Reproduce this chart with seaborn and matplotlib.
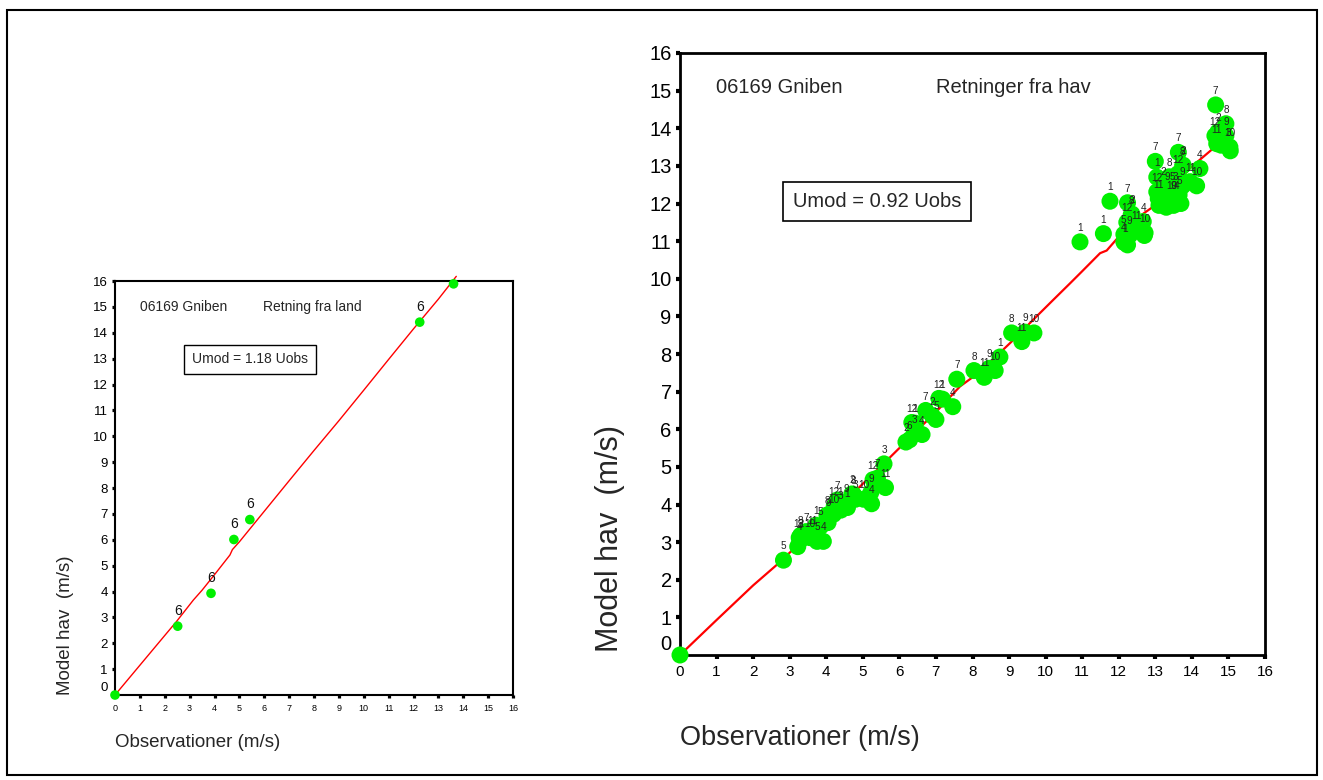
import matplotlib
matplotlib.use("Agg")
import matplotlib.pyplot as plt
import matplotlib.transforms as mtransforms
from matplotlib.patches import Rectangle
import seaborn as sns
import pandas as pd

# ---------------- data ----------------
# Left panel: "Retning fra land"
left_obs = [0.0, 2.52, 3.86, 4.78, 5.42, 12.25, 13.61]
left_mod = [0.0, 2.66, 3.93, 6.01, 6.78, 14.41, 15.89]
left_month = ['', '6', '6', '6', '6', '6', '']
left_fit_x = [0.0, 1.0, 2.0, 2.48, 3.15, 3.5, 4.0, 4.62, 4.72, 5.0, 6.0, 7.0, 8.0, 9.0, 10.0, 11.0, 12.0, 13.0, 13.72]
left_fit_y = [0.0, 1.15, 2.3, 2.85, 3.67, 4.05, 4.65, 5.41, 5.62, 5.92, 7.1, 8.28, 9.45, 10.6, 11.78, 12.97, 14.15, 15.3, 16.18]

# Right panel: "Retninger fra hav"
right_obs = [0.0, 2.83, 3.22, 3.26, 3.30, 3.30, 3.28, 3.45, 3.62, 3.55, 3.75, 3.92, 3.72, 3.85,
             4.05, 4.02, 4.05, 4.20, 4.22, 4.30, 4.38, 4.40, 4.55, 4.58, 4.70, 4.75, 4.80, 5.02,
             5.22, 5.24, 5.62, 5.28, 5.40, 5.58, 6.18, 6.28, 6.40, 6.34, 6.44, 6.62, 6.72, 6.90,
             7.00, 7.08, 7.18, 7.46, 7.57, 8.04, 8.32, 8.46, 8.62, 8.75, 9.07, 9.35, 9.44, 9.68,
             10.94, 11.58, 11.76, 12.24, 12.34, 12.36, 12.22, 12.14, 12.30, 12.14, 12.16, 12.24,
             12.67, 12.49, 12.72, 12.70, 13.00, 13.04, 13.38, 13.62, 13.75, 13.76, 13.63, 13.22,
             13.04, 13.32, 13.47, 13.56, 13.65, 13.75, 13.95, 14.13, 14.22, 13.08, 13.45, 13.50,
             13.58, 13.10, 13.30, 13.50, 13.70, 14.65, 14.93, 14.63, 14.71, 14.93, 14.68, 15.00,
             15.04, 15.05, 14.80]
right_mod = [0.0, 2.52, 2.88, 3.12, 3.18, 3.10, 3.04, 3.28, 3.20, 3.12, 3.02, 3.02, 3.45, 3.42,
             3.52, 3.72, 3.66, 3.74, 3.96, 4.12, 3.95, 3.85, 4.05, 3.92, 4.28, 4.26, 4.14, 4.14,
             4.32, 4.02, 4.45, 4.66, 4.70, 5.08, 5.66, 5.72, 5.88, 6.18, 6.16, 5.86, 6.50, 6.36,
             6.26, 6.82, 6.80, 6.60, 7.33, 7.56, 7.38, 7.62, 7.56, 7.92, 8.56, 8.33, 8.58, 8.56,
             10.98, 11.20, 12.06, 12.02, 11.70, 11.72, 11.50, 11.18, 11.16, 10.98, 10.96, 10.90,
             11.52, 11.30, 11.22, 11.15, 13.12, 12.70, 12.71, 12.79, 13.00, 13.02, 13.36, 12.47,
             12.31, 12.34, 12.34, 12.34, 12.23, 12.47, 12.58, 12.47, 12.93, 12.13, 12.10, 12.10,
             12.10, 11.95, 11.90, 11.95, 12.00, 14.62, 14.12, 13.80, 13.90, 13.80, 13.59, 13.50,
             13.50, 13.40, 13.55]
right_month = ['', '5', '', '12', '8', '3', '4', '7', '11', '10', '5', '4', '1', '5',
               '', '8', '9', '10', '12', '7', '1', '3', '9', '1', '2', '8', '3', '10',
               '9', '4', '11', '12', '7', '3', '2', '6', '3', '12', '1', '4', '7', '2',
               '5', '12', '1', '4', '7', '8', '11', '9', '10', '1', '8', '11', '9', '10',
               '1', '1', '1', '7', '8', '2', '12', '5', '9', '4', '1', '',
               '4', '11', '10', '', '7', '1', '8', '12', '8', '2', '7', '2',
               '12', '9', '5', '3', '5', '9', '11', '10', '4', '11', '10', '9',
               '4', '', '', '', '', '7', '8', '12', '2', '9', '11', '3',
               '10', '', '']
right_fit_x = [0.0, 1.0, 2.0, 2.64, 3.0, 3.5, 4.0, 4.5, 5.0, 5.5, 6.0, 6.5, 7.1, 7.66, 8.0, 8.5,
               9.07, 9.66, 10.21, 10.67, 11.0, 11.49, 11.67, 11.94, 12.3, 12.67, 12.95, 13.5,
               13.95, 14.59, 14.85]
right_fit_y = [0.0, 0.93, 1.85, 2.39, 2.72, 3.17, 3.62, 4.08, 4.55, 5.02, 5.5, 5.98, 6.56, 7.14,
               7.38, 7.8, 8.33, 8.91, 9.44, 9.88, 10.2, 10.68, 10.75, 11.05, 11.4, 11.73, 11.92,
               12.45, 12.94, 13.47, 13.75]

ticks = list(range(0, 17))
x_label = "Observationer (m/s)"
y_label = "Model hav  (m/s)"

# ---------------- style ----------------
sns.set_theme(style="white")
plt.rcParams['font.family'] = ['Liberation Sans', 'DejaVu Sans']

fig = plt.figure(figsize=(13.23, 7.8), dpi=100)
fig.patch.set_facecolor('white')
fig.patches.append(Rectangle((7 / 1323, 5 / 780), 1310 / 1323, 765 / 780,
                             transform=fig.transFigure, fill=False,
                             edgecolor='black', linewidth=1.5, zorder=0))

GREEN = '#00f000'
RED = '#ff0000'


def setup_axes(ax, spine_lw, tick_sq, xt_fs, yt_fs, zero_shift):
    ax.set_xlim(0, 16)
    ax.set_ylim(0, 16)
    ax.set_xticks(ticks)
    ax.set_yticks(ticks)
    ax.set_xticklabels([str(t) for t in ticks], fontsize=xt_fs)
    ax.set_yticklabels([str(t) for t in ticks], fontsize=yt_fs)
    for s in ax.spines.values():
        s.set_visible(True)
        s.set_color('black')
        s.set_linewidth(spine_lw)
    ax.tick_params(axis='both', direction='out', length=tick_sq, width=tick_sq,
                   color='black', labelcolor='black', bottom=True, left=True,
                   top=False, right=False)
    ax.tick_params(axis='x', pad=4)
    ax.tick_params(axis='y', pad=3)
    # the "0" label on the y axis sits above the corner
    lab0 = ax.get_yticklabels()[0]
    lab0.set_transform(lab0.get_transform() +
                       mtransforms.ScaledTranslation(0, zero_shift / 72, fig.dpi_scale_trans))
    ax.yaxis.get_major_ticks()[0].tick1line.set_visible(False)
    ax.xaxis.get_major_ticks()[0].tick1line.set_visible(False)
    ax.grid(False)


# ---------------- left panel ----------------
axL = fig.add_axes([115 / 1323, 1 - 695 / 780, 398 / 1323, 414 / 780])
dfL = pd.DataFrame({'obs': left_obs, 'mod': left_mod, 'month': left_month})
dfLfit = pd.DataFrame({'x': left_fit_x, 'y': left_fit_y})
sns.lineplot(data=dfLfit, x='x', y='y', ax=axL, color=RED, linewidth=1.0,
             estimator=None, sort=False, clip_on=False, zorder=2)
sns.scatterplot(data=dfL, x='obs', y='mod', ax=axL, color=GREEN, s=48,
                edgecolor='none', linewidth=0, clip_on=False, zorder=3)
for xo, ym, lab in zip(dfL['obs'], dfL['mod'], dfL['month']):
    if lab:
        axL.annotate(lab, (xo, ym), xytext=(0, 11), textcoords='offset points',
                     ha='center', va='center', fontsize=10, color='#111111', zorder=4)
setup_axes(axL, 1.5, 2.3, 6.5, 9.5, 6)
axL.set_xlabel(x_label, fontsize=13.5, ha='left')
axL.xaxis.set_label_coords(0.0, -0.115)
axL.xaxis.label.set_va('center')
axL.set_ylabel(y_label, fontsize=13.5)
axL.yaxis.set_label_coords(-0.125, 0.169)
axL.yaxis.label.set_va('center')
axL.text(1.0, 15.0, "06169 Gniben", fontsize=10, ha='left', va='center')
axL.text(5.95, 15.0, "Retning fra land", fontsize=10, ha='left', va='center')
axL.text(5.43, 12.98, "Umod = 1.18 Uobs", fontsize=10, ha='center', va='center',
         bbox=dict(boxstyle='square,pad=0.55', facecolor='white', edgecolor='black', linewidth=1.0))

# ---------------- right panel ----------------
axR = fig.add_axes([680 / 1323, 1 - 655 / 780, 585 / 1323, 602 / 780])
dfR = pd.DataFrame({'obs': right_obs, 'mod': right_mod, 'month': right_month})
dfRfit = pd.DataFrame({'x': right_fit_x, 'y': right_fit_y})
sns.lineplot(data=dfRfit, x='x', y='y', ax=axR, color=RED, linewidth=1.6,
             estimator=None, sort=False, clip_on=False, zorder=2)
sns.scatterplot(data=dfR, x='obs', y='mod', ax=axR, color=GREEN, s=150,
                edgecolor='none', linewidth=0, clip_on=False, zorder=3)
for xo, ym, lab in zip(dfR['obs'], dfR['mod'], dfR['month']):
    if lab:
        axR.annotate(lab, (xo, ym), xytext=(0, 10), textcoords='offset points',
                     ha='center', va='center', fontsize=7.2, color='#222222', zorder=4)
setup_axes(axR, 2.0, 3.0, 11, 14.5, 9)
axR.set_xlabel(x_label, fontsize=19.5, ha='left')
axR.xaxis.set_label_coords(0.0, -0.138)
axR.xaxis.label.set_va('center')
axR.set_ylabel(y_label, fontsize=22)
axR.yaxis.set_label_coords(-0.12, 0.193)
axR.yaxis.label.set_va('center')
axR.text(0.98, 15.08, "06169 Gniben", fontsize=14.5, ha='left', va='center')
axR.text(7.0, 15.08, "Retninger fra hav", fontsize=14.5, ha='left', va='center')
axR.text(5.39, 12.05, "Umod = 0.92 Uobs", fontsize=14.5, ha='center', va='center',
         bbox=dict(boxstyle='square,pad=0.5', facecolor='white', edgecolor='black', linewidth=1.2))

fig.savefig("out.png", dpi=100, facecolor='white')
